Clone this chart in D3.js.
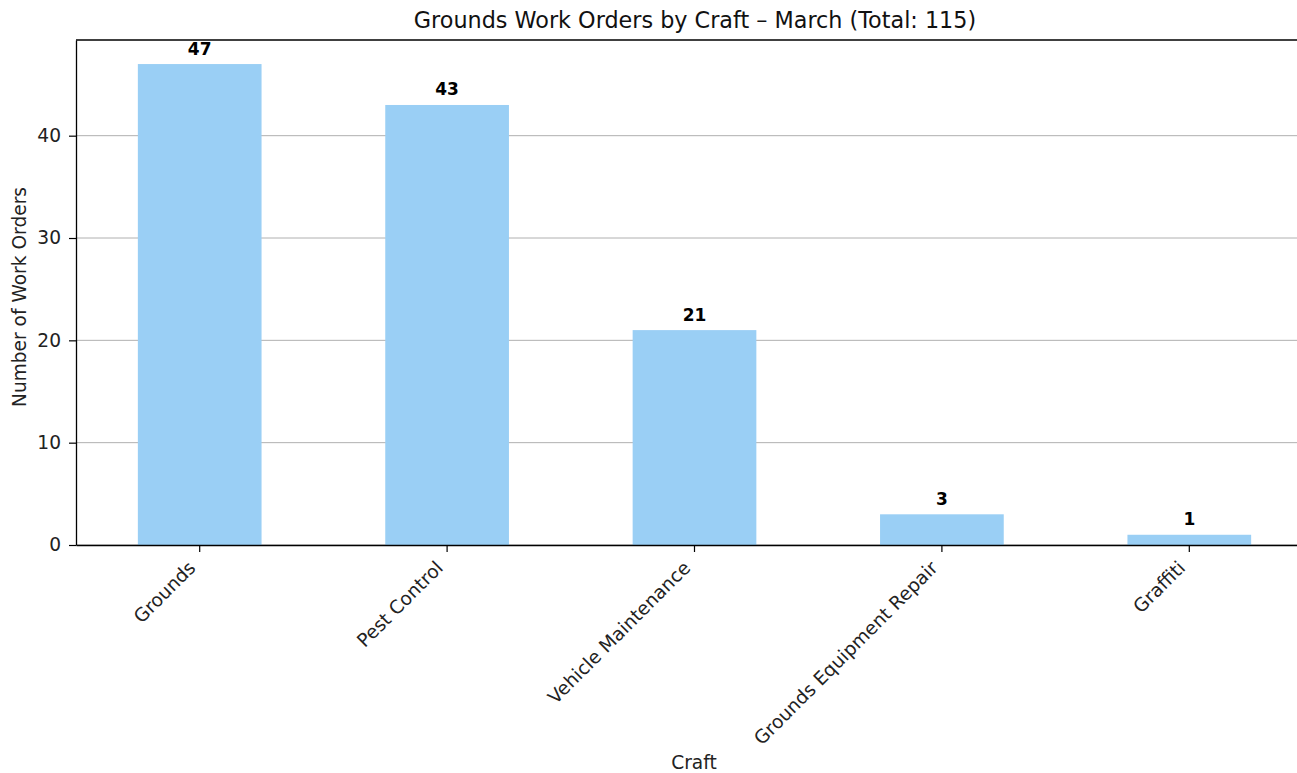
<!DOCTYPE html>
<html>
<head>
<meta charset="utf-8">
<script src="https://cdn.jsdelivr.net/npm/d3@7"></script>
<style>
  html, body { margin: 0; padding: 0; background: #fff; }
  svg { display: block; font-family: "DejaVu Sans", sans-serif; }
</style>
</head>
<body>
<svg id="chart" width="1297" height="773"></svg>
<script>
// Work orders by craft for March
const crafts = ["Grounds", "Pest Control", "Vehicle Maintenance", "Grounds Equipment Repair", "Graffiti"];
const orderCounts = [47, 43, 21, 3, 1];
const yTicks = [0, 10, 20, 30, 40];
const total = d3.sum(orderCounts);

const tickFont = 18.6;
const svg = d3.select("#chart");
const margin = { left: 76, top: 40, right: -16, bottom: 228 };
const width = 1297 - margin.left - margin.right;
const height = 773 - margin.top - margin.bottom;

const g = svg.append("g").attr("transform", `translate(${margin.left},${margin.top})`);

const x = d3.scaleBand().domain(crafts).range([0, width]).paddingInner(0.5).paddingOuter(0.25);
const y = d3.scaleLinear().domain([0, d3.max(orderCounts) * 1.05]).range([height, 0]);

// horizontal grid
g.append("g")
  .selectAll("line")
  .data(yTicks)
  .join("line")
  .attr("x1", 0).attr("x2", width)
  .attr("y1", d => y(d)).attr("y2", d => y(d))
  .attr("stroke", "#b0b0b0").attr("stroke-width", 1);

// bars
g.append("g")
  .selectAll("rect")
  .data(crafts)
  .join("rect")
  .attr("x", d => x(d))
  .attr("width", x.bandwidth())
  .attr("y", (d, i) => y(orderCounts[i]))
  .attr("height", (d, i) => height - y(orderCounts[i]))
  .attr("fill", "#9acff5");

// value labels
g.append("g")
  .selectAll("text")
  .data(crafts)
  .join("text")
  .attr("x", d => x(d) + x.bandwidth() / 2)
  .attr("y", (d, i) => y(orderCounts[i]) - 9.5)
  .attr("text-anchor", "middle")
  .attr("font-size", 17)
  .attr("font-weight", "bold")
  .attr("fill", "#000")
  .text((d, i) => orderCounts[i]);

// y axis
const yAxis = g.append("g")
  .call(d3.axisLeft(y).tickValues(yTicks).tickSizeInner(7).tickSizeOuter(0).tickPadding(8));
yAxis.select(".domain").attr("stroke", "#000").attr("stroke-width", 1.3);
yAxis.selectAll(".tick line").attr("stroke", "#000").attr("stroke-width", 1.2);
yAxis.selectAll("text").attr("font-size", tickFont).attr("fill", "#222").attr("font-family", "DejaVu Sans, sans-serif");

// x axis with labels rotated 45°, right edge hung from the tick
const xAxis = g.append("g")
  .attr("transform", `translate(0,${height})`)
  .call(d3.axisBottom(x).tickSizeInner(7).tickSizeOuter(0).tickPadding(0));
xAxis.select(".domain").attr("stroke", "#000").attr("stroke-width", 1.3);
xAxis.selectAll(".tick line").attr("stroke", "#000").attr("stroke-width", 1.2);
xAxis.selectAll("text")
  .attr("font-size", tickFont)
  .attr("fill", "#222")
  .attr("font-family", "DejaVu Sans, sans-serif")
  .attr("text-anchor", "end")
  .attr("dy", null)
  .attr("x", 0).attr("y", 0)
  .attr("transform", `translate(-3,${14 + 0.54 * tickFont}) rotate(-45)`);

// top spine
g.append("line")
  .attr("x1", 0).attr("x2", width).attr("y1", 0).attr("y2", 0)
  .attr("stroke", "#000").attr("stroke-width", 1.3);

// titles
svg.append("text")
  .attr("x", 695).attr("y", 28)
  .attr("text-anchor", "middle")
  .attr("font-size", 22.3)
  .attr("fill", "#111")
  .text(`Grounds Work Orders by Craft – March (Total: ${total})`);

svg.append("text")
  .attr("x", 694).attr("y", 769)
  .attr("text-anchor", "middle")
  .attr("font-size", 18.6)
  .attr("fill", "#222")
  .text("Craft");

svg.append("text")
  .attr("transform", `translate(26,297) rotate(-90)`)
  .attr("text-anchor", "middle")
  .attr("font-size", 18.6)
  .attr("fill", "#222")
  .text("Number of Work Orders");
</script>
</body>
</html>
